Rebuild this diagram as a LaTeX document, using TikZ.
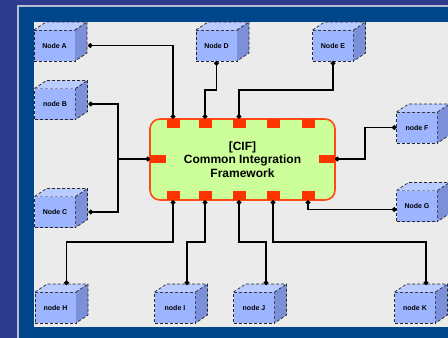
\documentclass[tikz,border=0pt]{standalone}
\usepackage{fontspec}
\setmainfont{Liberation Sans}
\usetikzlibrary{arrows.meta}
\definecolor{bgpurple}{HTML}{2E3C8E}
\definecolor{frameline}{HTML}{B8BCD0}
\definecolor{navy}{HTML}{00468A}
\definecolor{panel}{HTML}{EBEBEB}
\definecolor{cubefrontc}{HTML}{9DB4FF}
\definecolor{cubetopc}{HTML}{B9CBFF}
\definecolor{cubesidec}{HTML}{7B90D8}
\definecolor{cifgreen}{HTML}{CCFF99}
\definecolor{cifred}{HTML}{FF4A14}
\definecolor{portred}{HTML}{FF3300}
\tikzset{
  cubefront/.style={fill=cubefrontc, draw=black!85, densely dashed, line width=0.7pt,
    minimum width=41pt, minimum height=31pt, inner sep=0pt, outer sep=0pt,
    font=\fontsize{7}{8}\selectfont\bfseries},
  cubeface/.style={draw=black!85, densely dashed, line width=0.7pt},
  cif/.style={fill=cifgreen, draw=cifred, line width=1.6pt, rounded corners=10pt,
    minimum width=185pt, minimum height=81pt, inner sep=0pt,
    align=center, font=\fontsize{12}{13.5}\selectfont\bfseries},
  port/.style={fill=portred, inner sep=0pt, outer sep=0pt, minimum width=13pt, minimum height=9.5pt},
  sport/.style={fill=portred, inner sep=0pt, outer sep=0pt, minimum width=16pt, minimum height=8pt},
  conn/.style={draw=black, line width=1.8pt},
  dots/.style={{Circle[length=4.5pt]}-{Circle[length=4.5pt]}},
  enddot/.style={-{Circle[length=4.5pt]}},
  startdot/.style={{Circle[length=4.5pt]}-},
}
\newcommand\mycube[4]{%
  \node[cubefront] (#1) at (#2,#3) {#4};
  \fill[cubetopc] (#1.north west) -- ++(12,-8) -- ([shift={(12,-8)}]#1.north east) -- (#1.north east) -- cycle;
  \fill[cubesidec] (#1.north east) -- ++(12,-8) -- ([shift={(12,-8)}]#1.south east) -- (#1.south east) -- cycle;
  \draw[cubeface] (#1.north west) -- ++(12,-8) -- ([shift={(12,-8)}]#1.north east) -- ([shift={(12,-8)}]#1.south east) -- (#1.south east);
  \draw[cubeface] (#1.north east) -- ++(12,-8);
}
\begin{document}
\begin{tikzpicture}[x=1pt,y=-1pt]
\useasboundingbox (0,0) rectangle (448,338);
\begin{scope}
\clip (0,0) rectangle (448,338);
\fill[bgpurple] (0,0) rectangle (448,338);
\fill[frameline] (17,5) rectangle (449,339);
\fill[navy] (19,7) rectangle (449,339);
\fill[panel] (34,22) rectangle (449,327);

% cubes
\mycube{A}{54.5}{45.5}{Node A}
\mycube{B}{55}{104}{node B}
\mycube{C}{55}{212}{Node C}
\mycube{D}{216.5}{45.5}{Node D}
\mycube{E}{333}{45.5}{Node E}
\mycube{G}{417}{127.5}{node F}
\mycube{J}{417}{206}{Node G}
\mycube{K1}{55.5}{307.5}{node H}
\mycube{K2}{175}{307.5}{node I}
\mycube{K3}{254}{307.5}{node J}
\mycube{K4}{415}{307.5}{node K}

% central box
\node[cif] (cif) at (242.5,159.5) {[CIF]\\Common Integration\\Framework};
\node[port] (t1) at (173,123.5) {};
\node[port] (t2) at (205,123.5) {};
\node[port] (t3) at (239,123.5) {};
\node[port] (t4) at (273,123.5) {};
\node[port] (t5) at (308,123.5) {};
\node[port] (b1) at (173,195.5) {};
\node[port] (b2) at (205,195.5) {};
\node[port] (b3) at (239,195.5) {};
\node[port] (b4) at (273,195.5) {};
\node[port] (b5) at (308,195.5) {};
\node[sport] (pl) at (158,159) {};
\node[sport] (pr) at (327,159) {};
\coordinate (jL) at (118,159);

% connectors
\draw[conn,dots] ([xshift=13pt]A.east) -| (t1.north);
\draw[conn,dots] (t2.north) -- ++(0,-29) -| (D.south);
\draw[conn,dots] (t3.north) -- ++(0,-29) -| (E.south);
\draw[conn,startdot] ([xshift=13pt]B.east) -| (jL);
\draw[conn,startdot] ([xshift=13pt]C.east) -| (jL);
\draw[conn,enddot] (jL) -- (pl.west);
\draw[conn,dots] (pr.east) -- ++(30,0) |- (G.west);
\draw[conn,dots] (b5.south) |- ([yshift=-3.5pt]J.west);
\draw[conn,dots] (b1.south) -- ++(0,42) -| ([xshift=11pt,yshift=7pt]K1.north);
\draw[conn,dots] (b2.south) -- ++(0,42) -| ([xshift=12pt,yshift=7pt]K2.north);
\draw[conn,dots] (b3.south) -- ++(0,42) -| ([xshift=12pt,yshift=7pt]K3.north);
\draw[conn,dots] (b4.south) -- ++(0,42) -| ([xshift=11pt,yshift=7pt]K4.north);
\end{scope}
\end{tikzpicture}
\end{document}
